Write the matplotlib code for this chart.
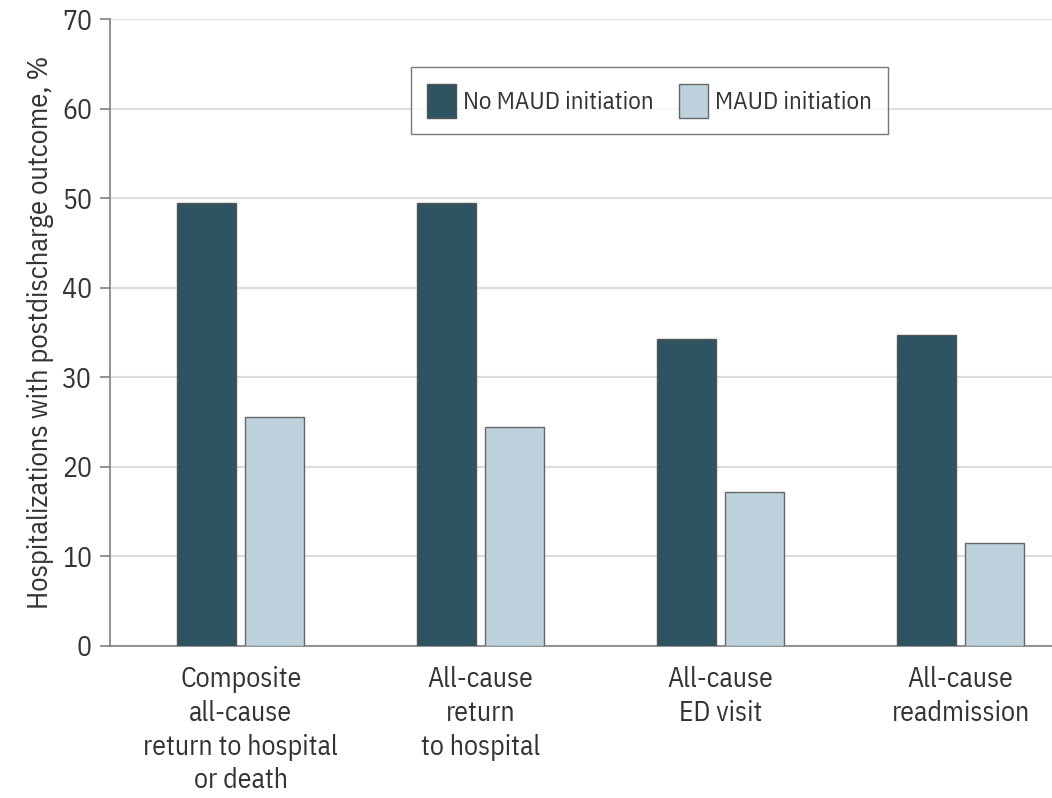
import matplotlib
matplotlib.use("Agg")
import matplotlib.pyplot as plt
import numpy as np

plt.rcParams['font.family'] = ['IBM Plex Sans Condensed', 'Roboto', 'DejaVu Sans']

categories = ["Composite\nall-cause\nreturn to hospital\nor death",
              "All-cause\nreturn\nto hospital",
              "All-cause\nED visit",
              "All-cause\nreadmission"]
no_maud = [49.5, 49.4, 34.2, 34.7]
maud = [25.5, 24.4, 17.2, 11.5]
series_names = ["No MAUD initiation", "MAUD initiation"]

DARK = "#2e5361"
LIGHT = "#bdd2dc"
TEXT = "#333333"
AXIS = "#808080"

fig = plt.figure(figsize=(10.52, 7.98), dpi=100)
ax = fig.add_axes([0.1046, 0.1911, 0.8954, 0.785])

x = np.arange(len(categories))
w = 0.246
ax.bar(x - 0.142, no_maud, w, color=DARK, edgecolor="#555555", linewidth=1, label=series_names[0], zorder=3)
ax.bar(x + 0.142, maud, w, color=LIGHT, edgecolor="#666666", linewidth=1, label=series_names[1], zorder=3)

ax.set_xlim(-0.545, 3.38)
ax.set_ylim(0, 70)
ax.set_yticks(range(0, 71, 10))
ax.yaxis.grid(True, color="#dddddd", linewidth=1.5, zorder=0)
ax.set_axisbelow(True)

ax.set_xticks(x)
ax.set_xticklabels(categories, fontsize=20, color=TEXT, linespacing=1.32)
ax.tick_params(axis="x", length=0, pad=15)
ax.tick_params(axis="y", labelsize=20, labelcolor=TEXT, color=AXIS, length=7, width=1.2, pad=6)

for s in ["top", "right"]:
    ax.spines[s].set_visible(False)
for s in ["left", "bottom"]:
    ax.spines[s].set_color(AXIS)
    ax.spines[s].set_linewidth(1.2)

ax.set_ylabel("Hospitalizations with postdischarge outcome, %", fontsize=20.5, color=TEXT, labelpad=6)

leg = ax.legend(loc="upper left", bbox_to_anchor=(0.3195, 0.923), ncol=2, fontsize=18,
                frameon=True, fancybox=False, edgecolor="#555555",
                handlelength=1.15, handleheight=1.75, handletextpad=0.3, columnspacing=1.0,
                borderpad=0.65, borderaxespad=0)
leg.get_frame().set_linewidth(1)
for t in leg.get_texts():
    t.set_color(TEXT)

fig.savefig("out.png", dpi=100, facecolor="white")
